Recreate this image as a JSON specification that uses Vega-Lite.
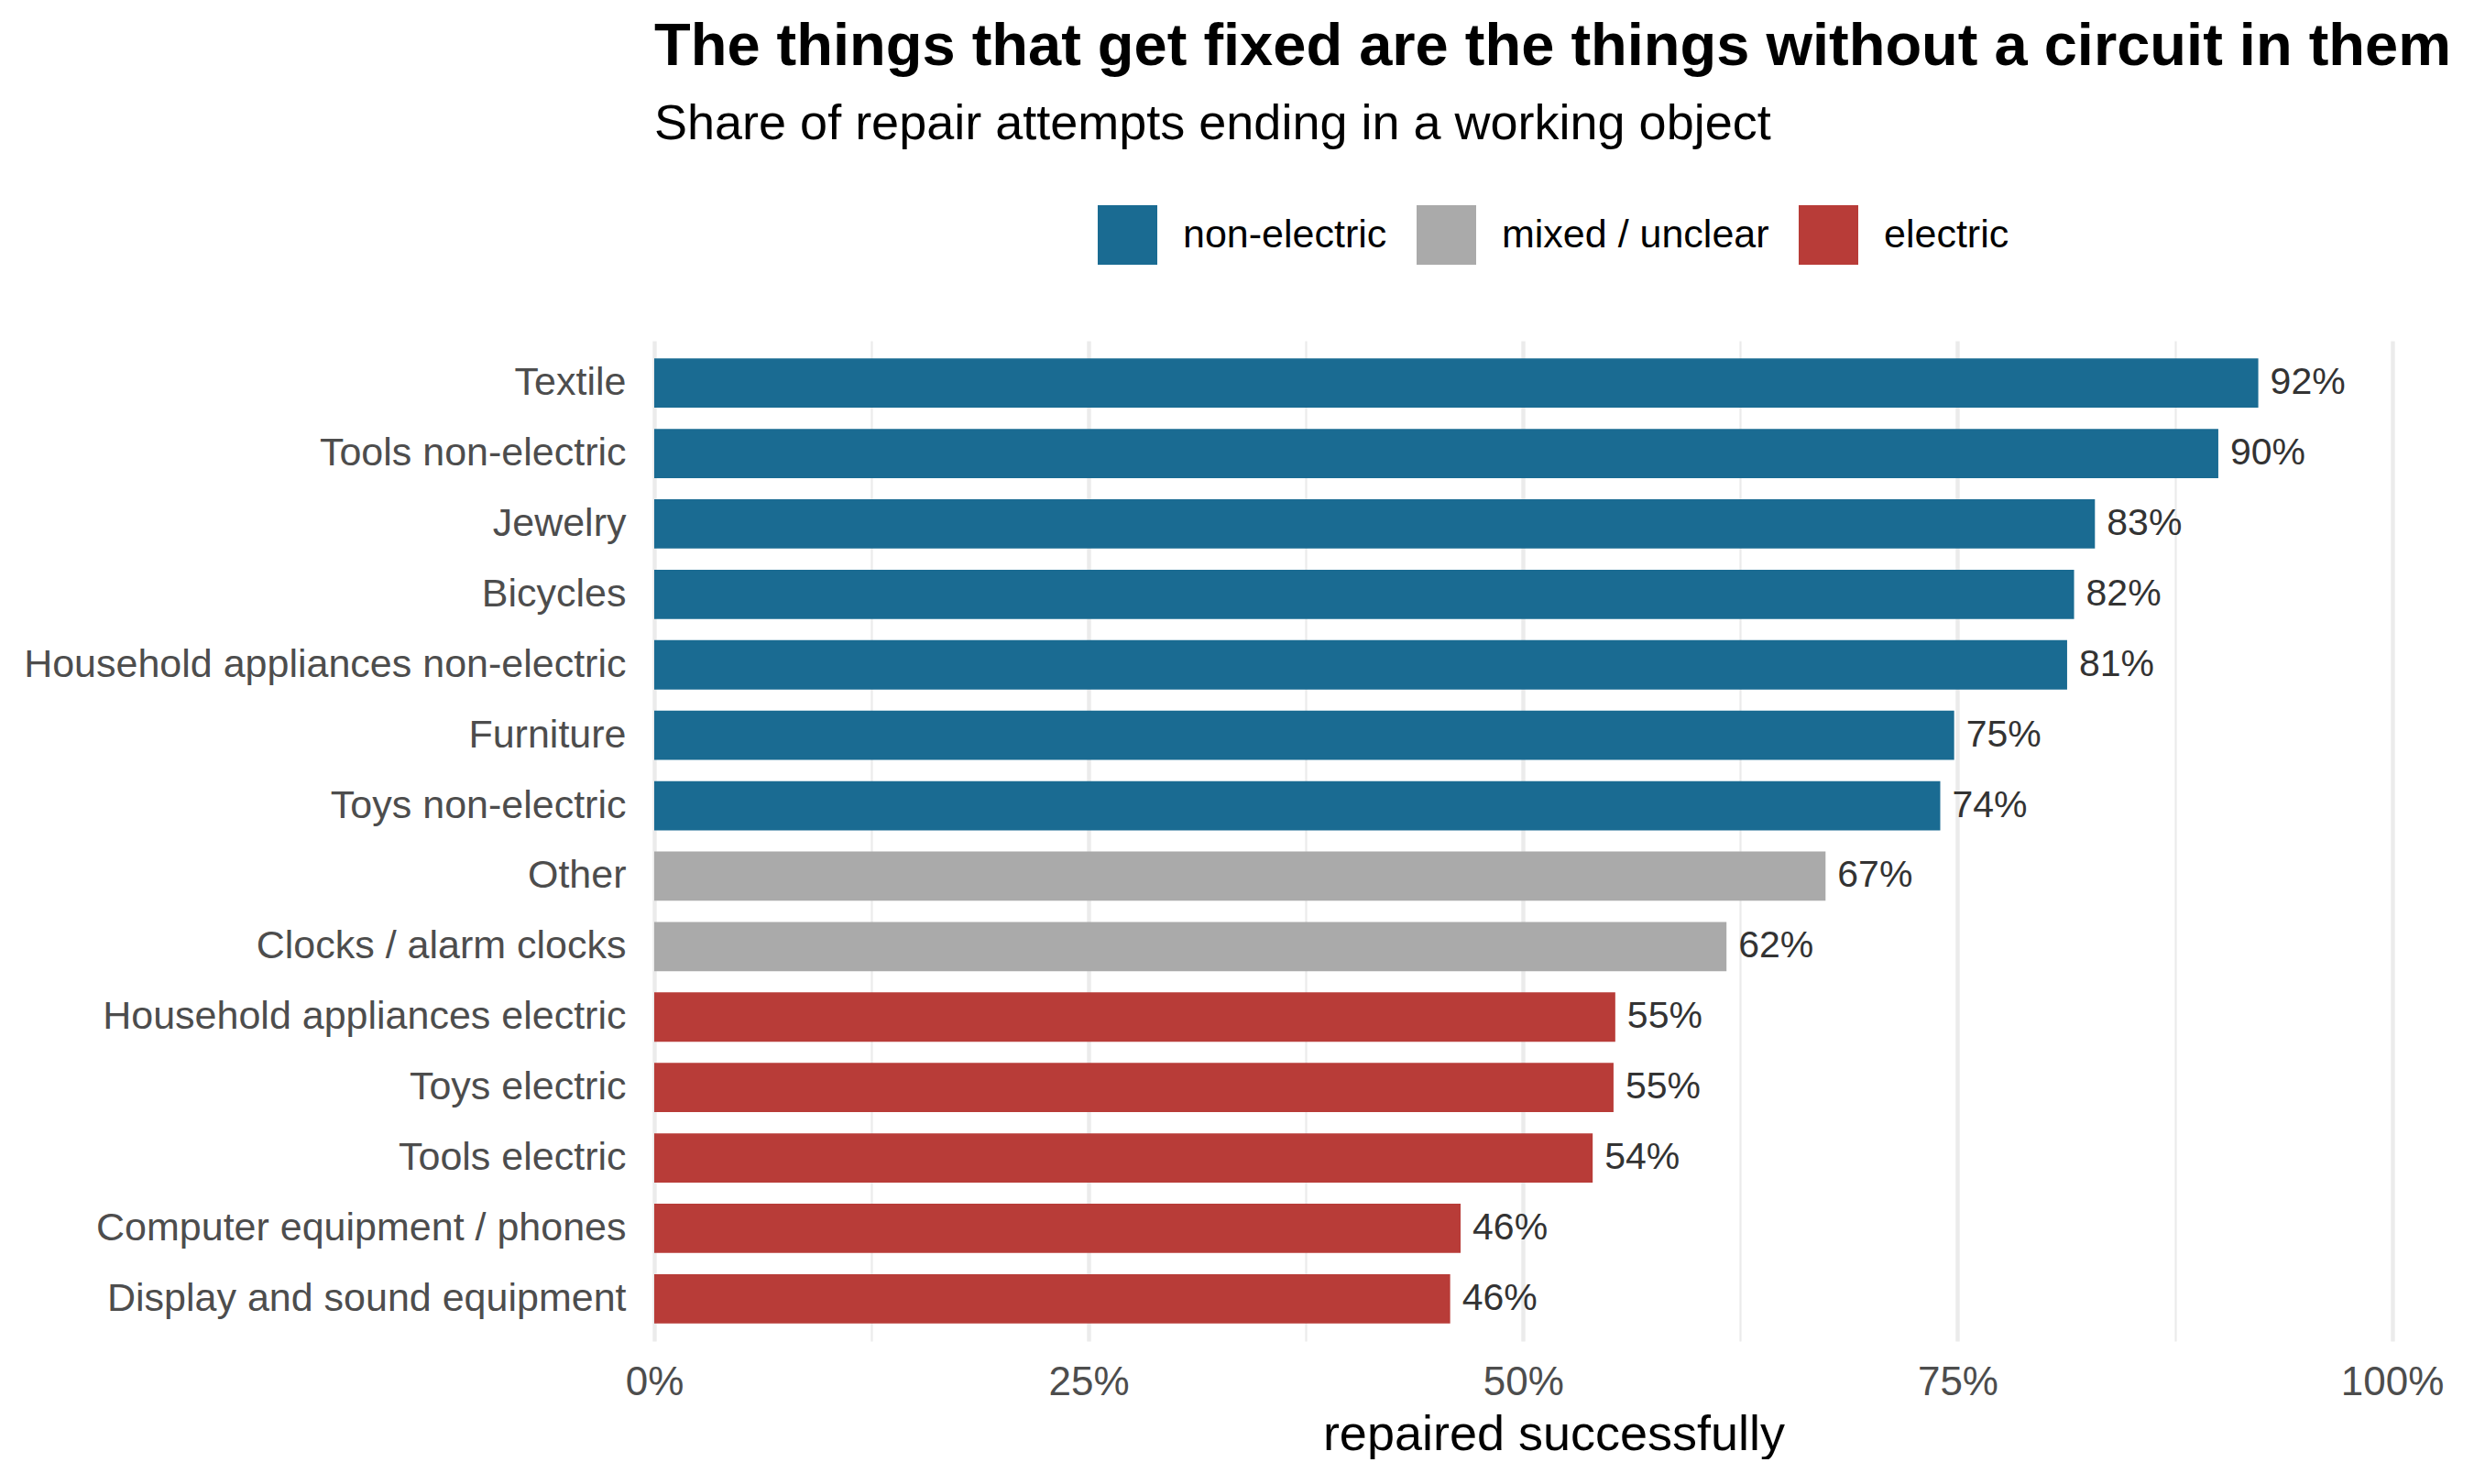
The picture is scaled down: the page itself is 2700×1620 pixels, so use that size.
{
  "$schema": "https://vega.github.io/schema/vega-lite/v6.json",
  "width": 1963,
  "height": 1092,
  "padding": {"left": 25, "top": 19, "right": 0, "bottom": 0},
  "background": "white",
  "config": {
    "font": "Liberation Sans",
    "view": {"stroke": null},
    "title": {
      "anchor": "start",
      "frame": "group",
      "fontSize": 65,
      "fontWeight": "bold",
      "color": "black",
      "subtitleFontSize": 54,
      "subtitleColor": "black",
      "subtitlePadding": 24,
      "offset": 60
    },
    "legend": {
      "layout": {"top": {"anchor": "middle"}}
    }
  },
  "title": {
    "text": "The things that get fixed are the things without a circuit in them",
    "subtitle": "Share of repair attempts ending in a working object"
  },
  "data": {
    "values": [
      {"category": "Textile", "share": 0.923, "type": "non-electric"},
      {"category": "Tools non-electric", "share": 0.900, "type": "non-electric"},
      {"category": "Jewelry", "share": 0.829, "type": "non-electric"},
      {"category": "Bicycles", "share": 0.817, "type": "non-electric"},
      {"category": "Household appliances non-electric", "share": 0.813, "type": "non-electric"},
      {"category": "Furniture", "share": 0.748, "type": "non-electric"},
      {"category": "Toys non-electric", "share": 0.740, "type": "non-electric"},
      {"category": "Other", "share": 0.674, "type": "mixed / unclear"},
      {"category": "Clocks / alarm clocks", "share": 0.617, "type": "mixed / unclear"},
      {"category": "Household appliances electric", "share": 0.553, "type": "electric"},
      {"category": "Toys electric", "share": 0.552, "type": "electric"},
      {"category": "Tools electric", "share": 0.540, "type": "electric"},
      {"category": "Computer equipment / phones", "share": 0.464, "type": "electric"},
      {"category": "Display and sound equipment", "share": 0.458, "type": "electric"}
    ]
  },
  "encoding": {
    "y": {
      "field": "category",
      "type": "nominal",
      "sort": {"field": "share", "order": "descending"},
      "scale": {"paddingInner": 0.3, "paddingOuter": 0.25},
      "axis": {
        "title": null,
        "domain": false,
        "ticks": false,
        "tickSize": 0,
        "grid": false,
        "labelFontSize": 43,
        "labelColor": "#4d4d4d",
        "labelPadding": 31,
        "labelLimit": 1000
      }
    },
    "x": {
      "field": "share",
      "type": "quantitative",
      "scale": {"domain": [0, 1.035], "nice": false},
      "axis": {
        "title": "repaired successfully",
        "titleFontSize": 54,
        "titleFontWeight": "normal",
        "titleColor": "black",
        "titlePadding": 8,
        "values": [0, 0.125, 0.25, 0.375, 0.5, 0.625, 0.75, 0.875, 1],
        "labelExpr": "(datum.value * 4) % 1 === 0 ? format(datum.value, '.0%') : ''",
        "labelFlush": false,
        "domain": false,
        "ticks": false,
        "tickSize": 0,
        "grid": true,
        "gridColor": "#ebebeb",
        "gridWidth": {"condition": {"test": "(datum.value * 4) % 1 === 0", "value": 4.4}, "value": 2.2},
        "labelFontSize": 44,
        "labelColor": "#4d4d4d",
        "labelPadding": 23
      }
    }
  },
  "layer": [
    {
      "mark": {"type": "bar"},
      "encoding": {
        "color": {
          "field": "type",
          "type": "nominal",
          "scale": {
            "domain": ["non-electric", "mixed / unclear", "electric"],
            "range": ["#1a6b92", "#aaaaaa", "#b83c38"]
          },
          "legend": {
            "title": null,
            "orient": "top",
            "direction": "horizontal",
            "symbolType": "square",
            "symbolSize": 4225,
            "symbolStrokeWidth": 0,
            "labelFontSize": 43,
            "labelColor": "black",
            "labelLimit": 1000,
            "labelOffset": 28,
            "columnPadding": 32,
            "offset": 83
          }
        }
      }
    },
    {
      "mark": {"type": "text", "align": "left", "baseline": "middle", "dx": 13, "fontSize": 41, "color": "#333333"},
      "encoding": {
        "text": {"field": "share", "type": "quantitative", "format": ".0%"}
      }
    }
  ]
}
